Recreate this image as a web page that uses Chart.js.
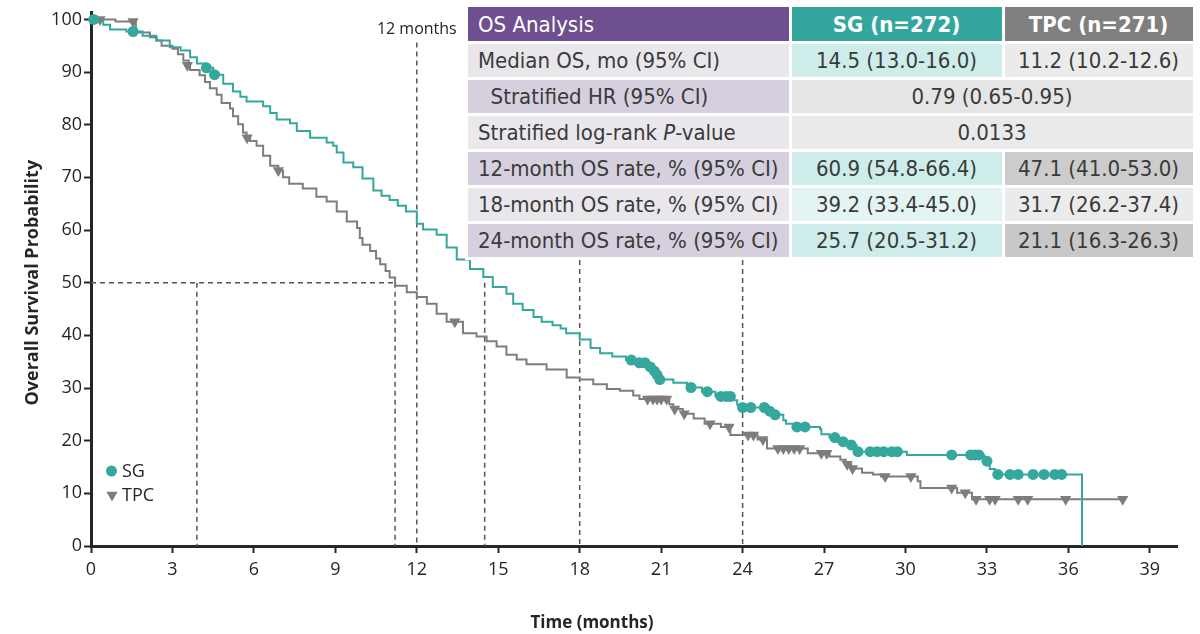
<!DOCTYPE html>
<html>
<head>
<meta charset="utf-8">
<title>OS Kaplan-Meier</title>
<script src="https://cdn.jsdelivr.net/npm/chart.js@4.4.1/dist/chart.umd.min.js"></script>
<style>
    html, body { margin: 0; padding: 0; background: #fff; }
    #wrap { position: relative; width: 1200px; height: 634px; }
    #chart { position: absolute; left: 0; top: 0; }
    #osTable {
        position: absolute; left: 465px; top: 4px;
        border-collapse: separate; border-spacing: 3px;
        table-layout: fixed; background: #fff;
        font-family: "Liberation Sans Narrow", "DejaVu Sans Condensed", "Roboto", sans-serif;
        font-size: 22px; color: #3a3a3a;
    }
    #osTable td { box-sizing: border-box; height: 33px; padding: 0 10px; white-space: nowrap; text-align: center; }
    #osTable td.lbl { text-align: left; }
    #osTable tr.hdr td { color: #fff; height: 34px; }
    #osTable tr.hdr td.c1 { background: #6e4f8f; }
    #osTable tr.hdr td.c2 { background: #33a79e; font-weight: bold; }
    #osTable tr.hdr td.c3 { background: #7f7f7f; font-weight: bold; }
</style>
</head>
<body>
<div id="wrap">
    <canvas id="chart" width="1200" height="634"></canvas>
    <table id="osTable"></table>
</div>
<script>
(function() {
    'use strict';

    // axis ticks
    const xTicks = [0, 3, 6, 9, 12, 15, 18, 21, 24, 27, 30, 33, 36, 39];
    const yTicks = [0, 10, 20, 30, 40, 50, 60, 70, 80, 90, 100];

    // SG Kaplan-Meier steps (months, % surviving)
    const sgTimes = [0, 0.45, 0.7, 1.3, 1.9, 2.4, 2.9, 3.3, 3.65, 3.9, 4.2, 4.5, 4.87, 5.23, 5.5, 5.73,
        6.34, 6.6, 6.84, 7.33, 7.58, 8.07, 8.68, 8.92, 9.05, 9.3, 9.66, 10.0, 10.4, 10.7, 11.0, 11.3,
        11.6, 12.0, 12.23, 12.73, 13.1, 13.47, 13.96, 14.45, 14.8, 15.3, 15.55, 15.9, 16.3, 16.6, 17.0,
        17.3, 17.5, 18.0, 18.4, 18.75, 19.2, 19.7, 20.0, 20.45, 20.65, 20.8, 20.9, 21.45, 21.95, 22.5,
        23.0, 23.6, 23.8, 24.0, 24.9, 25.1, 25.5, 25.6, 25.9, 26.85, 26.9, 27.2, 27.5, 27.9, 28.2,
        30.05, 32.9, 33.1, 33.3, 36.5];
    const sgSurv = [100, 99.0, 98.1, 97.7, 96.9, 96.0, 94.7, 94.1, 92.8, 91.6, 90.8, 89.5, 87.8, 86.3, 85.3, 84.4,
        83.5, 82.2, 81.0, 80.3, 78.8, 77.5, 76.6, 76.0, 74.7, 72.8, 71.9, 69.8, 67.5, 66.5, 65.7, 64.6,
        63.5, 61.2, 60.1, 59.1, 56.7, 54.4, 52.6, 51.1, 49.2, 47.9, 46.0, 44.8, 43.5, 42.6, 41.9,
        41.3, 40.4, 39.2, 37.6, 36.6, 36.0, 35.3, 34.8, 34.0, 33.2, 32.5, 31.6, 31.0, 30.1, 29.3,
        28.4, 27.7, 26.8, 26.3, 25.6, 24.9, 23.9, 23.2, 22.6, 22.2, 21.2, 20.6, 19.8, 19.2, 17.9,
        17.3, 16.1, 14.6, 13.6, 0];
    const sgCensorTimes = [0.1, 1.55, 4.25, 4.55, 19.9, 20.2, 20.4, 20.6, 20.75, 20.85, 20.95, 22.1, 22.7,
        23.2, 23.4, 23.55, 24.0, 24.3, 24.8, 25.0, 25.2, 26.0, 26.3, 27.4, 27.7, 28.0, 28.25, 28.7,
        28.95, 29.2, 29.5, 29.7, 31.7, 32.4, 32.55, 32.7, 33.0, 33.4, 33.85, 34.15, 34.7, 35.1, 35.5, 35.75];
    const sgCensorSurv = [100, 97.7, 90.8, 89.5, 35.3, 34.8, 34.8, 34.0, 33.2, 32.5, 31.6, 30.1, 29.3,
        28.4, 28.4, 28.4, 26.3, 26.3, 26.3, 25.6, 24.9, 22.6, 22.6, 20.6, 19.8, 19.2, 17.9, 17.9,
        17.9, 17.9, 17.9, 17.9, 17.3, 17.3, 17.3, 17.3, 16.1, 13.6, 13.6, 13.6, 13.6, 13.6, 13.6, 13.6];

    // TPC Kaplan-Meier steps
    const tpcTimes = [0, 0.9, 1.65, 2.17, 2.42, 2.6, 3.0, 3.2, 3.4, 3.6, 3.65, 4.0, 4.2, 4.38, 4.63, 4.81,
        5.12, 5.23, 5.42, 5.6, 5.73, 5.86, 6.1, 6.34, 6.6, 6.9, 7.07, 7.3, 7.8, 8.3, 8.68, 9.05, 9.42,
        9.8, 9.9, 10.0, 10.28, 10.5, 10.65, 10.85, 11.0, 11.2, 11.63, 12.0, 12.37, 12.73, 13.1, 13.7,
        14.2, 14.57, 14.94, 15.3, 15.68, 16.04, 16.78, 17.52, 18.0, 18.5, 19.0, 19.48, 19.97, 20.2,
        21.3, 21.45, 21.8, 22.2, 22.6, 23.2, 23.55, 24.55, 24.9, 26.4, 27.2, 27.6, 27.8, 28.0, 28.4,
        28.8, 29.1, 30.45, 30.55, 31.9, 32.45, 38.0];
    const tpcSurv = [100, 99.6, 97.5, 96.6, 96.0, 95.0, 94.4, 93.4, 92.2, 91.3, 90.4, 89.4, 88.1, 86.9, 85.7, 84.1,
        83.1, 81.6, 80.1, 78.5, 77.5, 76.9, 76.0, 74.1, 72.2, 71.3, 70.0, 68.8, 67.9, 66.3, 65.4, 63.5, 61.6,
        60.4, 58.5, 57.2, 56.0, 54.6, 53.5, 52.2, 51.0, 49.4, 48.2, 47.3, 46.0, 44.1, 42.6, 40.4,
        39.8, 38.9, 37.9, 36.3, 35.4, 34.5, 33.5, 32.0, 31.6, 30.7, 29.8, 29.5, 28.6, 27.9,
        26.9, 26.0, 25.1, 24.2, 23.2, 22.6, 21.1, 20.2, 18.5, 17.6, 17.0, 16.4, 15.5, 14.7, 13.9,
        13.6, 13.2, 12.3, 11.0, 10.1, 8.9, 8.9];
    const tpcCensorTimes = [0.33, 1.55, 3.55, 5.75, 6.9, 13.4, 20.5, 20.7, 20.85, 21.0, 21.2, 21.5, 21.85,
        22.8, 23.5, 24.2, 24.4, 24.75, 25.3, 25.5, 25.7, 25.9, 26.1, 26.9, 27.1, 27.85, 28.05, 29.25,
        30.2, 31.7, 32.2, 32.6, 33.1, 33.3, 34.15, 34.5, 35.9, 38.0];
    const tpcCensorSurv = [100, 99.6, 91.3, 77.5, 71.3, 42.6, 27.9, 27.9, 27.9, 27.9, 27.9, 26.0, 25.1,
        23.2, 22.6, 21.1, 21.1, 20.2, 18.5, 18.5, 18.5, 18.5, 18.5, 17.6, 17.6, 15.5, 14.7, 13.2,
        13.2, 11.0, 10.1, 8.9, 8.9, 8.9, 8.9, 8.9, 8.9, 8.9];

    // dashed guide lines
    const medianLine = [0, 50, 11.2, 50];
    const guideX = [3.9, 11.2, 14.5, 12, 18, 24];
    const guideTop = [50, 50, 50, 95.6, 56, 56];

    // summary table
    const tableHeader = ['OS Analysis', 'SG (n=272)', 'TPC (n=271)'];
    const tableLabels = ['Median OS, mo (95% CI)', '\u00a0\u00a0Stratified HR (95% CI)',
        'Stratified log-rank <i>P</i>-value', '12-month OS rate, % (95% CI)',
        '18-month OS rate, % (95% CI)', '24-month OS rate, % (95% CI)'];
    const tableSG = ['14.5 (13.0-16.0)', '0.79 (0.65-0.95)', '0.0133', '60.9 (54.8-66.4)',
        '39.2 (33.4-45.0)', '25.7 (20.5-31.2)'];
    const tableTPC = ['11.2 (10.2-12.6)', null, null, '47.1 (41.0-53.0)', '31.7 (26.2-37.4)', '21.1 (16.3-26.3)'];
    const rowFill = [
        ['#e9e7ec', '#cdecea', '#ebebeb'],
        ['#d6d0de', '#e5e5e5', '#e5e5e5'],
        ['#eae8ed', '#eaeaea', '#eaeaea'],
        ['#d6d0de', '#cdecea', '#cccccc'],
        ['#e9e7ec', '#e4f4f3', '#ebebeb'],
        ['#d6d0de', '#cdecea', '#c8c8c8']
    ];

    const TEAL = '#35a89e';
    const GREY = '#7d7d7d';
    const INK = '#262626';
    const FONT = '"Open Sans", "Noto Sans", sans-serif';

    // build table
    const table = document.getElementById('osTable');
    let html = '<tr class="hdr"><td class="lbl c1" style="width:320px">' + tableHeader[0] +
        '</td><td class="c2" style="width:210px">' + tableHeader[1] +
        '</td><td class="c3" style="width:188px">' + tableHeader[2] + '</td></tr>';
    tableLabels.forEach(function(lbl, i) {
        const f = rowFill[i];
        html += '<tr><td class="lbl" style="background:' + f[0] + '">' + lbl + '</td>';
        if (tableTPC[i] === null) {
            html += '<td colspan="2" style="background:' + f[1] + '">' + tableSG[i] + '</td>';
        } else {
            html += '<td style="background:' + f[1] + '">' + tableSG[i] + '</td>';
            html += '<td style="background:' + f[2] + '">' + tableTPC[i] + '</td>';
        }
        html += '</tr>';
    });
    table.innerHTML = html;

    const toXY = (xs, ys) => xs.map((x, i) => ({ x: x, y: ys[i] }));

    const guideSets = guideX.map((gx, i) => ({
        data: [{ x: gx, y: guideTop[i] }, { x: gx, y: 0 }],
        borderColor: '#555', borderWidth: 1.5, borderDash: [5, 4], pointRadius: 0
    }));
    guideSets.push({
        data: [{ x: medianLine[0], y: medianLine[1] }, { x: medianLine[2], y: medianLine[3] }],
        borderColor: '#555', borderWidth: 1.5, borderDash: [5, 4], pointRadius: 0
    });

    // axis titles, 12 months label and legend
    const decorPlugin = {
        id: 'decor',
        afterDraw(chart) {
            const ctx = chart.ctx;
            const xs = chart.scales.x;
            const ys = chart.scales.y;
            ctx.save();
            ctx.fillStyle = INK;
            ctx.textAlign = 'center';
            ctx.textBaseline = 'middle';

            ctx.font = 'bold 17px ' + FONT;
            ctx.fillText('Time (months)', 592, 623);

            ctx.save();
            ctx.translate(33, ys.getPixelForValue(50));
            ctx.rotate(-Math.PI / 2);
            ctx.font = 'bold 18px ' + FONT;
            ctx.fillText('Overall Survival Probability', 0, 0);
            ctx.restore();

            ctx.font = '16px ' + FONT;
            ctx.fillText('12 months', xs.getPixelForValue(12), 29);

            // legend
            ctx.fillStyle = TEAL;
            ctx.beginPath();
            ctx.arc(111.5, 471, 5.5, 0, Math.PI * 2);
            ctx.fill();
            ctx.fillStyle = GREY;
            Chart.helpers.drawPoint(ctx, { pointStyle: 'triangle', radius: 6.5, rotation: 180, borderWidth: 0 }, 112, 495);
            ctx.fillStyle = INK;
            ctx.textAlign = 'left';
            ctx.font = '18px ' + FONT;
            ctx.fillText('SG', 122, 472);
            ctx.fillText('TPC', 122, 496);
            ctx.restore();
        }
    };

    const axisStyle = {
        grid: { drawOnChartArea: false, drawTicks: true, tickLength: 7, tickWidth: 2, tickColor: INK },
        border: { color: INK, width: 3 }
    };

    new Chart(document.getElementById('chart'), {
        type: 'line',
        data: {
            datasets: [
                {
                    label: 'SG censored', data: toXY(sgCensorTimes, sgCensorSurv), showLine: false,
                    pointStyle: 'circle', pointRadius: 5.5, pointBackgroundColor: TEAL, pointBorderWidth: 0, clip: false
                },
                {
                    label: 'TPC censored', data: toXY(tpcCensorTimes, tpcCensorSurv), showLine: false,
                    pointStyle: 'triangle', pointRotation: 180, pointRadius: 6.5,
                    pointBackgroundColor: GREY, pointBorderWidth: 0, clip: false
                },
                {
                    label: 'SG', data: toXY(sgTimes, sgSurv), stepped: true,
                    borderColor: TEAL, borderWidth: 2, pointRadius: 0
                },
                {
                    label: 'TPC', data: toXY(tpcTimes, tpcSurv), stepped: true,
                    borderColor: GREY, borderWidth: 2, pointRadius: 0
                }
            ].concat(guideSets)
        },
        options: {
            responsive: false,
            animation: false,
            devicePixelRatio: 1,
            layout: { padding: { top: 5, right: 23, bottom: 0, left: 0 } },
            plugins: { legend: { display: false }, tooltip: { enabled: false } },
            scales: {
                x: Object.assign({
                    type: 'linear', min: 0, max: 40,
                    afterBuildTicks: s => { s.ticks = xTicks.map(v => ({ value: v })); },
                    afterFit: s => { s.height = 88; },
                    ticks: { color: INK, font: { family: FONT, size: 18 }, padding: 6, autoSkip: false, maxRotation: 0 }
                }, axisStyle),
                y: Object.assign({
                    type: 'linear', min: 0, max: 101.25,
                    afterBuildTicks: s => { s.ticks = yTicks.map(v => ({ value: v })); },
                    afterFit: s => { s.width = 91; },
                    ticks: { color: INK, font: { family: FONT, size: 18 }, padding: 2 }
                }, axisStyle)
            }
        },
        plugins: [decorPlugin]
    });
})();
</script>
</body>
</html>
